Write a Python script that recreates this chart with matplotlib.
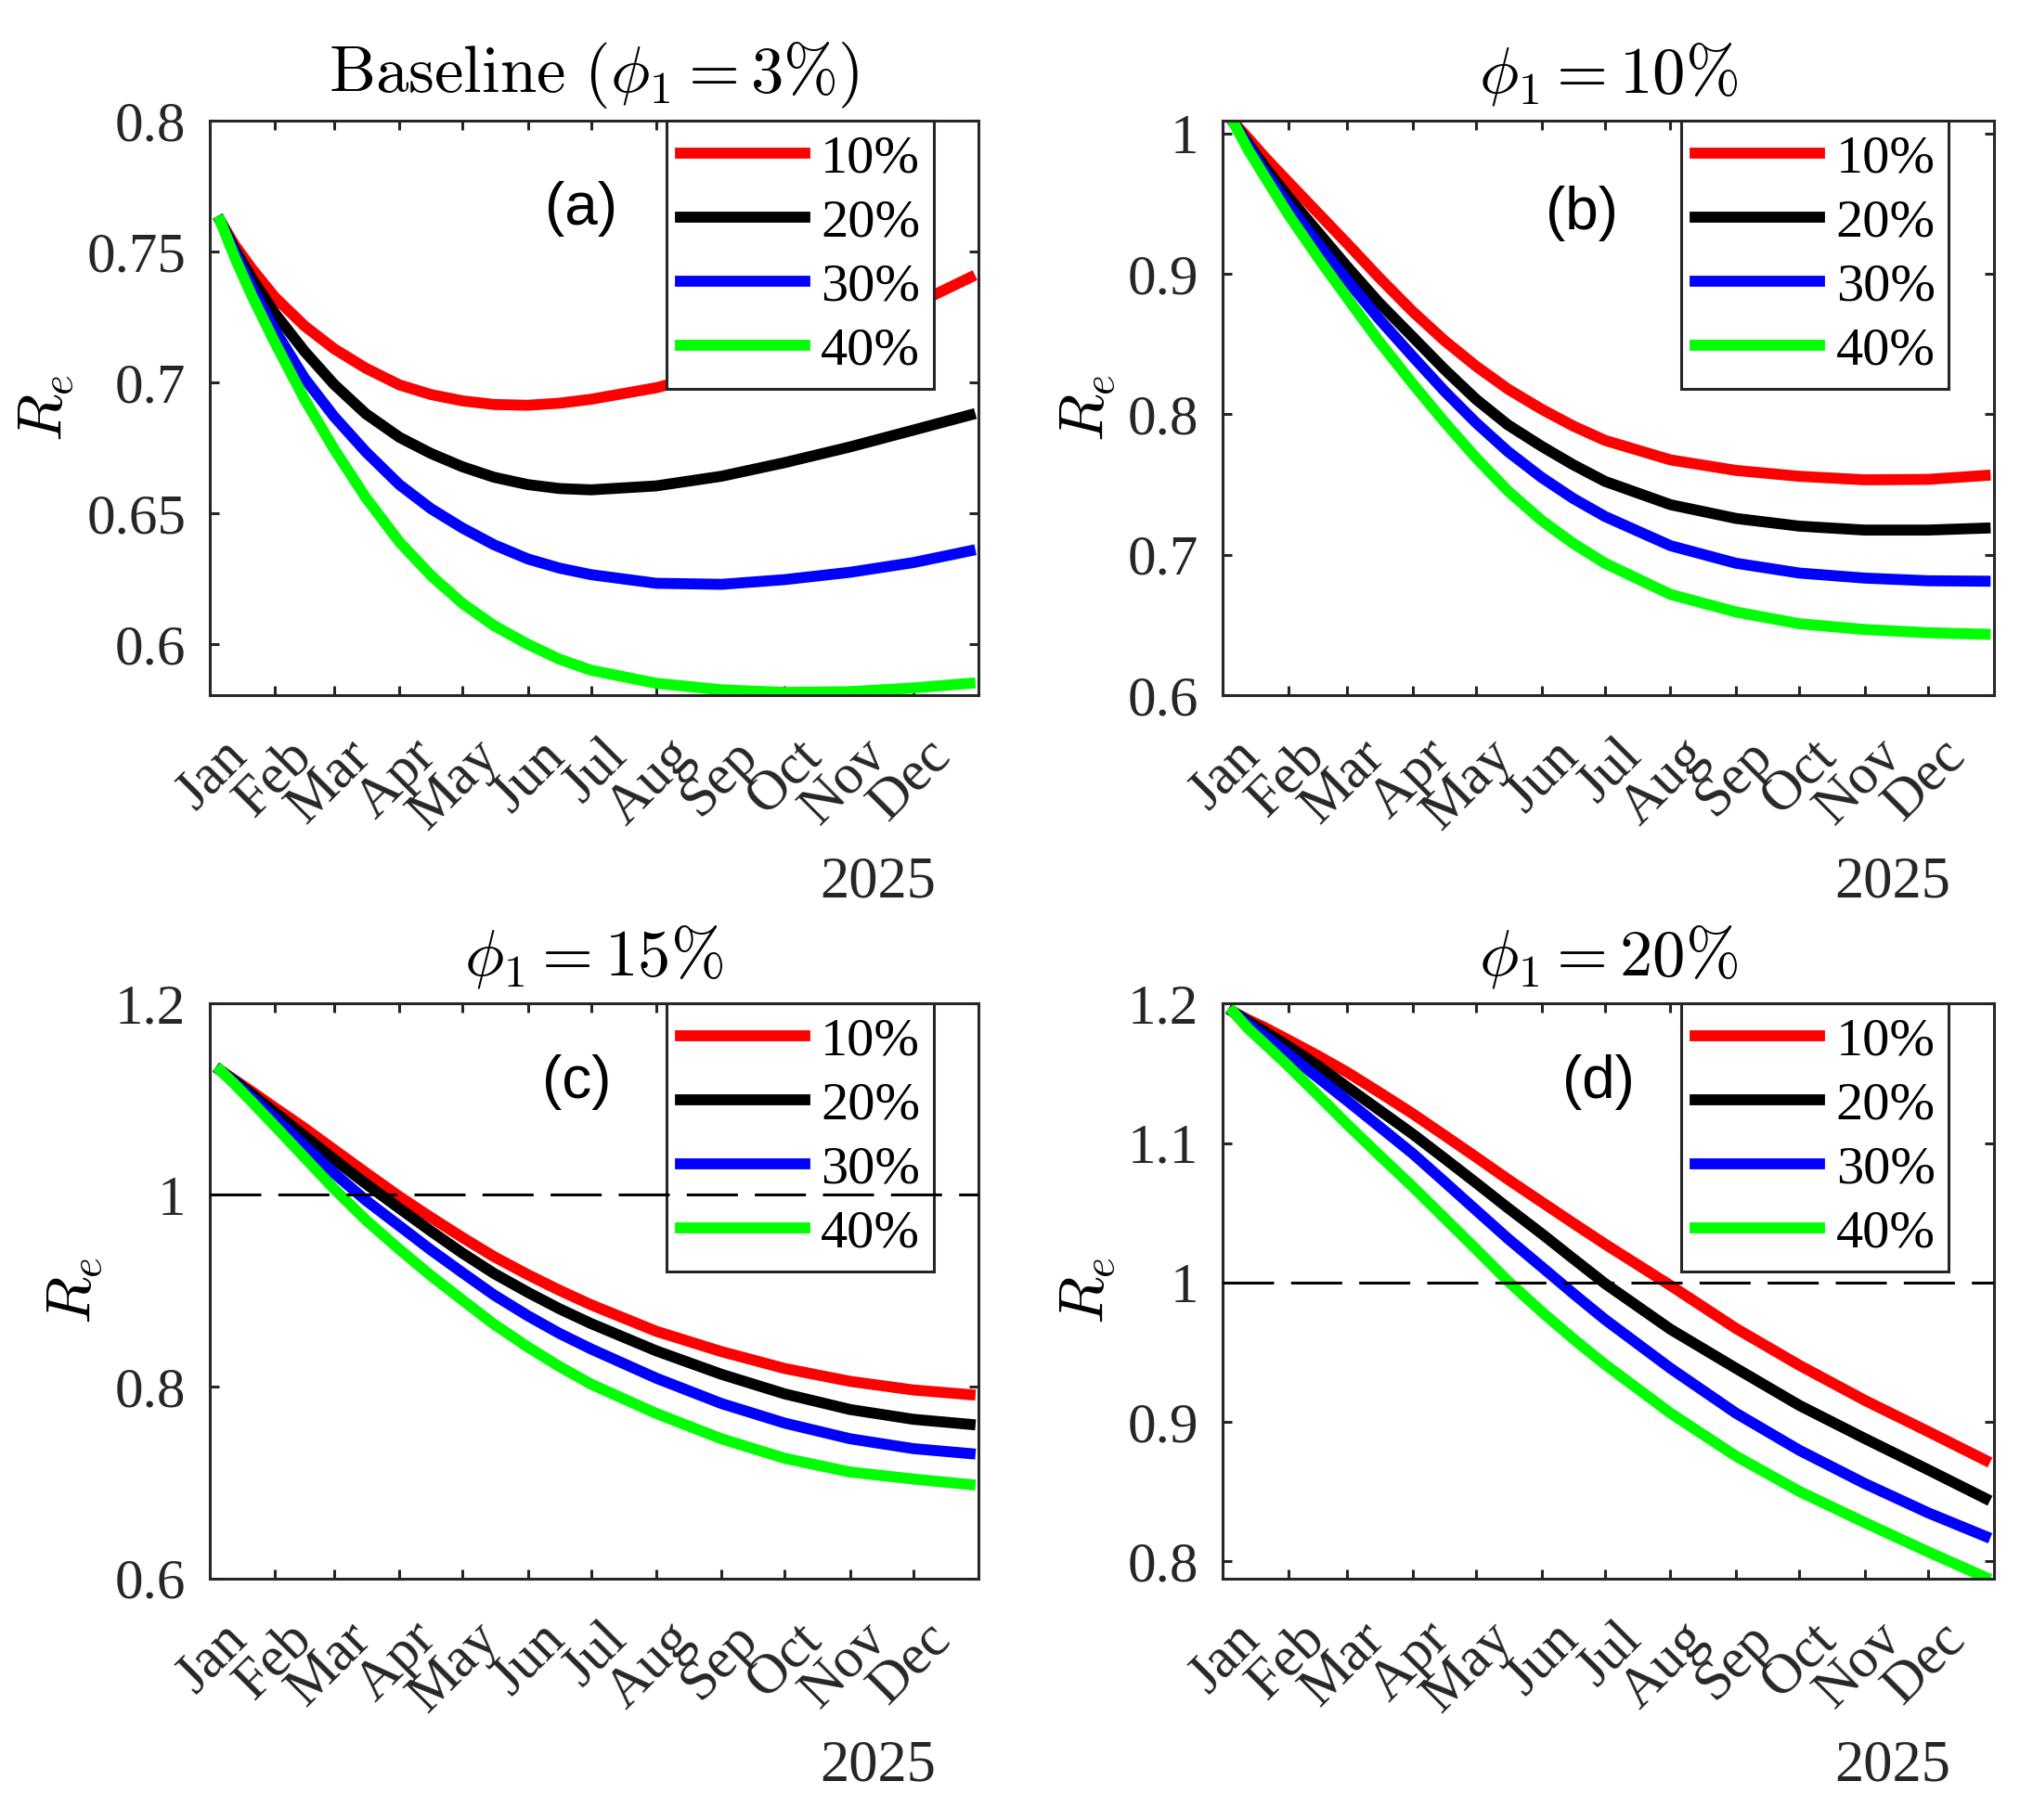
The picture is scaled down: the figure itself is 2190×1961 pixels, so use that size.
import datetime as dt
import matplotlib
matplotlib.use('Agg')
import matplotlib.pyplot as plt
from matplotlib.ticker import FormatStrFormatter
from matplotlib.transforms import ScaledTranslation

plt.rcParams['font.family'] = ['Liberation Serif', 'DejaVu Serif']
plt.rcParams['mathtext.fontset'] = 'cm'

# sample dates (2025)
dates = ['2025-01-06', '2025-01-13', '2025-01-21', '2025-02-01', '2025-02-15',
         '2025-03-01', '2025-03-16', '2025-04-01', '2025-04-16', '2025-05-01',
         '2025-05-16', '2025-06-01', '2025-06-16', '2025-07-01', '2025-08-01',
         '2025-09-01', '2025-10-01', '2025-11-01', '2025-12-01', '2025-12-28']
month_labels = ['Jan', 'Feb', 'Mar', 'Apr', 'May', 'Jun',
                'Jul', 'Aug', 'Sep', 'Oct', 'Nov', 'Dec']
series_labels = ['10%', '20%', '30%', '40%']
series_colors = ['#ff0000', '#000000', '#0000ff', '#00ff00']

# (a) baseline phi_1 = 3%
re_a_10 = [0.7616, 0.7522, 0.7433, 0.7324, 0.7215, 0.7128, 0.7054, 0.6990, 0.6953, 0.6929,
           0.6915, 0.6912, 0.6920, 0.6935, 0.6979, 0.7045, 0.7115, 0.7195, 0.7295, 0.7400]
re_a_20 = [0.7616, 0.7505, 0.7396, 0.7262, 0.7118, 0.6992, 0.6880, 0.6790, 0.6728, 0.6677,
           0.6637, 0.6609, 0.6594, 0.6589, 0.6604, 0.6641, 0.6693, 0.6753, 0.6817, 0.6875]
re_a_30 = [0.7616, 0.7495, 0.7363, 0.7197, 0.7015, 0.6869, 0.6735, 0.6609, 0.6517, 0.6443,
           0.6379, 0.6325, 0.6290, 0.6265, 0.6232, 0.6228, 0.6246, 0.6274, 0.6311, 0.6356]
re_a_40 = [0.7616, 0.7474, 0.7330, 0.7150, 0.6935, 0.6745, 0.6560, 0.6390, 0.6262, 0.6155,
           0.6070, 0.5999, 0.5942, 0.5900, 0.5850, 0.5825, 0.5815, 0.5818, 0.5832, 0.5850]

# (b) phi_1 = 10%
re_b_10 = [1.0083, 0.9967, 0.9830, 0.9655, 0.9435, 0.9215, 0.8975, 0.8731, 0.8525, 0.8342,
           0.8180, 0.8036, 0.7916, 0.7814, 0.7675, 0.7600, 0.7558, 0.7533, 0.7536, 0.7564]
re_b_20 = [1.0083, 0.9930, 0.9760, 0.9550, 0.9300, 0.9050, 0.8795, 0.8550, 0.8320, 0.8106,
           0.7925, 0.7772, 0.7640, 0.7522, 0.7356, 0.7258, 0.7203, 0.7175, 0.7175, 0.7189]
re_b_30 = [1.0083, 0.9915, 0.9725, 0.9494, 0.9217, 0.8953, 0.8680, 0.8411, 0.8165, 0.7939,
           0.7735, 0.7550, 0.7400, 0.7272, 0.7064, 0.6939, 0.6869, 0.6833, 0.6814, 0.6811]
re_b_40 = [1.0083, 0.9885, 0.9690, 0.9425, 0.9119, 0.8828, 0.8520, 0.8217, 0.7945, 0.7689,
           0.7455, 0.7244, 0.7080, 0.6939, 0.6717, 0.6592, 0.6508, 0.6467, 0.6444, 0.6433]

# (c) phi_1 = 15%
re_c_10 = [1.1299, 1.1196, 1.1077, 1.0908, 1.0696, 1.0472, 1.0233, 0.9983, 0.9765, 0.9555,
           0.9355, 0.9168, 0.9005, 0.8854, 0.8577, 0.8365, 0.8189, 0.8055, 0.7965, 0.7916]
re_c_20 = [1.1299, 1.1185, 1.1050, 1.0859, 1.0614, 1.0370, 1.0118, 0.9860, 0.9622, 0.9392,
           0.9180, 0.8984, 0.8812, 0.8658, 0.8373, 0.8128, 0.7924, 0.7761, 0.7659, 0.7606]
re_c_30 = [1.1299, 1.1168, 1.1014, 1.0798, 1.0513, 1.0227, 0.9945, 0.9677, 0.9425, 0.9188,
           0.8955, 0.8739, 0.8555, 0.8393, 0.8088, 0.7823, 0.7619, 0.7456, 0.7353, 0.7301]
re_c_40 = [1.1299, 1.1150, 1.0970, 1.0716, 1.0390, 1.0064, 0.9740, 0.9432, 0.9158, 0.8902,
           0.8650, 0.8413, 0.8210, 0.8026, 0.7720, 0.7455, 0.7252, 0.7109, 0.7036, 0.6978]

# (d) phi_1 = 20%
re_d_10 = [1.1941, 1.1885, 1.1828, 1.1740, 1.1627, 1.1507, 1.1365, 1.1210, 1.1055, 1.0899,
           1.0740, 1.0577, 1.0425, 1.0275, 0.9978, 0.9670, 0.9406, 0.9154, 0.8930, 0.8725]
re_d_20 = [1.1941, 1.1873, 1.1800, 1.1695, 1.1555, 1.1401, 1.1238, 1.1064, 1.0890, 1.0714,
           1.0535, 1.0350, 1.0170, 0.9992, 0.9664, 0.9384, 0.9118, 0.8880, 0.8656, 0.8451]
re_d_30 = [1.1941, 1.1855, 1.1764, 1.1639, 1.1471, 1.1303, 1.1120, 1.0924, 1.0722, 1.0518,
           1.0315, 1.0112, 0.9920, 0.9734, 0.9384, 0.9062, 0.8796, 0.8557, 0.8347, 0.8179]
re_d_40 = [1.1941, 1.1822, 1.1710, 1.1555, 1.1345, 1.1134, 1.0915, 1.0686, 1.0462, 1.0238,
           1.0010, 0.9790, 0.9595, 0.9412, 0.9062, 0.8754, 0.8501, 0.8277, 0.8067, 0.7885]

titles = [r'$\mathrm{Baseline}\ (\phi_1 = 3\%)$', r'$\phi_1 = 10\%$',
          r'$\phi_1 = 15\%$', r'$\phi_1 = 20\%$']
panel_tags = ['(a)', '(b)', '(c)', '(d)']
y_ticks = [[0.6, 0.65, 0.7, 0.75, 0.8], [0.6, 0.7, 0.8, 0.9, 1.0],
           [0.6, 0.8, 1.0, 1.2], [0.8, 0.9, 1.0, 1.1, 1.2]]
y_limits = [(0.5805, 0.8), (0.6, 1.0092), (0.6, 1.2), (0.7877, 1.2003)]
threshold = [None, None, 1.0, 1.0]

panels = [[re_a_10, re_a_20, re_a_30, re_a_40],
          [re_b_10, re_b_20, re_b_30, re_b_40],
          [re_c_10, re_c_20, re_c_30, re_c_40],
          [re_d_10, re_d_20, re_d_30, re_d_40]]

x = [dt.datetime.strptime(d, '%Y-%m-%d') for d in dates]
month_ticks = [dt.datetime(2025, m, 1) for m in range(1, 13)]

fig = plt.figure(figsize=(21.9, 19.61), dpi=100)
ax_pos = [[0.1032, 0.6181, 0.3781, 0.3157], [0.6014, 0.6181, 0.3792, 0.3157],
          [0.1032, 0.1328, 0.3781, 0.3160], [0.6014, 0.1328, 0.3792, 0.3160]]
tag_pos = [(0.483, 0.847), (0.466, 0.838), (0.477, 0.862), (0.487, 0.862)]
axcol = '#262626'

for i in range(4):
    ax = fig.add_axes(ax_pos[i])
    handles = []
    for vals, col, lab in zip(panels[i], series_colors, series_labels):
        h, = ax.plot(x, vals, color=col, lw=8.5, label=lab, solid_joinstyle='round')
        handles.append(h)

    ax.set_xlim(dt.datetime(2025, 1, 1), dt.datetime(2026, 1, 1))
    ax.set_ylim(*y_limits[i])
    ax.set_yticks(y_ticks[i])
    ax.yaxis.set_major_formatter(FormatStrFormatter('%g'))
    ax.set_xticks(month_ticks, month_labels)

    ax.tick_params(direction='in', length=7.5, width=2.2, top=True, right=True,
                   labelsize=44, colors=axcol)
    ax.tick_params(axis='y', pad=18.5)
    ax.tick_params(axis='x', pad=41)
    for sp in ax.spines.values():
        sp.set_linewidth(2.2)
        sp.set_color(axcol)

    # rotated month labels sit a little right of their ticks, as in the original
    shift = ScaledTranslation(0.31, 0, fig.dpi_scale_trans)
    for lbl in ax.get_xticklabels():
        lbl.set_rotation(45)
        lbl.set_rotation_mode('anchor')
        lbl.set_ha('right')
        lbl.set_va('center')
        lbl.set_transform(lbl.get_transform() + shift)

    ax.text(0.869, -0.327, '2025', transform=ax.transAxes, ha='center',
            va='center', fontsize=45, color=axcol)

    ax.set_title(titles[i], fontsize=51, pad=22)
    ax.set_ylabel(r'$R_e$', fontsize=48, labelpad=8)

    leg = ax.legend(handles=handles, loc='upper right', bbox_to_anchor=(0.942, 1.0),
                    borderaxespad=0, fontsize=42, fancybox=False, framealpha=1,
                    edgecolor=axcol, handlelength=2.3, handletextpad=0.3,
                    labelspacing=0.28, borderpad=0.25)
    leg.get_frame().set_linewidth(2.2)

    ax.text(tag_pos[i][0], tag_pos[i][1], panel_tags[i], transform=ax.transAxes,
            ha='center', va='center', fontsize=46, family='Liberation Sans')

    if threshold[i] is not None:
        ax.axhline(threshold[i], color='black', lw=2.2, dashes=(18, 6), zorder=6)

fig.savefig('out.png', dpi=100)
